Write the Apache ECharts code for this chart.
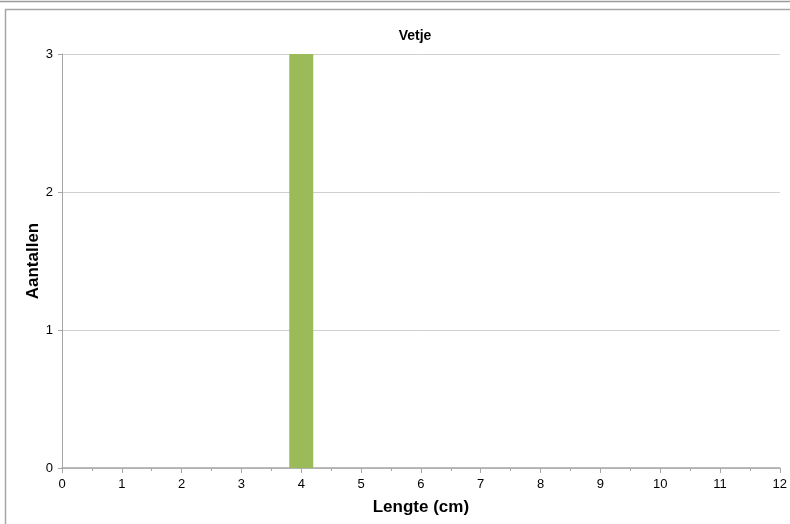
<!DOCTYPE html>
<html>
<head>
<meta charset="utf-8">
<script src="https://cdn.jsdelivr.net/npm/echarts@6/dist/echarts.min.js"></script>
<style>html,body{margin:0;padding:0;background:#fff}#c{width:790px;height:524px}</style>
</head>
<body>
<div id="c"></div>
<script>
var lengths = [4];
var counts = [3];
var xTicks = [0,1,2,3,4,5,6,7,8,9,10,11,12];
var yTicks = [0,1,2,3];

var chart = echarts.init(document.getElementById('c'));
var data = lengths.map(function(l,i){return [l, counts[i]];});
chart.setOption({
  animation: false,
  title: {
    text: 'Vetje', left: 410, top: 24, textAlign: 'center',
    textStyle: {fontFamily: 'Liberation Sans', fontWeight: 'bold', fontSize: 14, color: '#000'}
  },
  graphic: [
    {type: 'line', shape: {x1: 0, y1: 1.5, x2: 790, y2: 1.5}, style: {stroke: '#9a9a9a', lineWidth: 1.5}},
    {type: 'rect', shape: {x: 5.5, y: 9.5, width: 800, height: 530}, style: {fill: 'none', stroke: '#a6a6a6', lineWidth: 1.5}}
  ],
  grid: {left: 62, right: 9, top: 54, bottom: 56, containLabel: false},
  xAxis: {
    type: 'value', min: xTicks[0], max: xTicks[xTicks.length-1], interval: 1,
    name: 'Lengte (cm)', nameLocation: 'middle', nameGap: 31,
    nameTextStyle: {fontFamily: 'Liberation Sans', fontWeight: 'bold', fontSize: 17, color: '#000'},
    axisLine: {lineStyle: {color: '#a6a6a6', width: 1.5}},
    axisTick: {show: true, length: 5, lineStyle: {color: '#a6a6a6'}},
    minorTick: {show: true, splitNumber: 2, length: 3, lineStyle: {color: '#a6a6a6'}},
    axisLabel: {fontFamily: 'Liberation Sans', fontSize: 13, color: '#000', margin: 10},
    splitLine: {show: false}
  },
  yAxis: {
    type: 'value', min: yTicks[0], max: yTicks[yTicks.length-1], interval: 1,
    name: 'Aantallen', nameLocation: 'middle', nameGap: 20, nameRotate: 90, nameMoveOverlap: false,
    nameTextStyle: {fontFamily: 'Liberation Sans', fontWeight: 'bold', fontSize: 17, color: '#000'},
    axisLine: {show: true, lineStyle: {color: '#a6a6a6', width: 1}},
    axisTick: {show: true, length: 4, lineStyle: {color: '#a6a6a6'}},
    axisLabel: {fontFamily: 'Liberation Sans', fontSize: 13, color: '#000', margin: 9},
    splitLine: {lineStyle: {color: '#d0d0d0', width: 1}}
  },
  series: [{
    type: 'bar', data: data, barWidth: 24,
    itemStyle: {color: '#9BBB59'}
  }]
});
</script>
</body>
</html>
